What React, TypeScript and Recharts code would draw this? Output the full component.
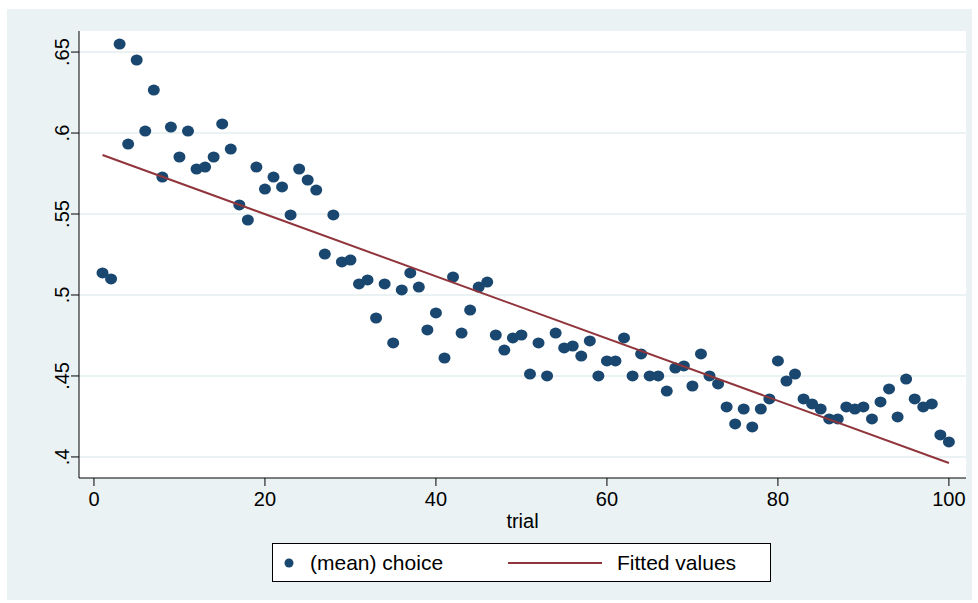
import {
  CartesianGrid,
  Scatter,
  ScatterChart,
  XAxis,
  YAxis,
} from "recharts";

// trial 1..100, (mean) choice
const trials: number[] = Array.from({ length: 100 }, (_, i) => i + 1);
const meanChoice: number[] = [
  0.5136, 0.5099, 0.6549, 0.5932, 0.6451, 0.6012, 0.6265, 0.5728, 0.6037, 0.5852,
  0.6012, 0.5778, 0.579, 0.5852, 0.6056, 0.5901, 0.5556, 0.5463, 0.579, 0.5654,
  0.5728, 0.5667, 0.5494, 0.5778, 0.571, 0.5648, 0.5253, 0.5494, 0.5204, 0.5216,
  0.5068, 0.5093, 0.4858, 0.5068, 0.4704, 0.5031, 0.5136, 0.5049, 0.4784, 0.4889,
  0.4611, 0.5111, 0.4765, 0.4907, 0.5049, 0.508, 0.4753, 0.466, 0.4735, 0.4753,
  0.4512, 0.4704, 0.45, 0.4765, 0.4673, 0.4685, 0.4623, 0.4716, 0.45, 0.4593,
  0.4593, 0.4735, 0.45, 0.4636, 0.45, 0.45, 0.4407, 0.4549, 0.4562, 0.4438,
  0.4636, 0.45, 0.4451, 0.4309, 0.4204, 0.4296, 0.4185, 0.4296, 0.4358, 0.4593,
  0.4469, 0.4512, 0.4358, 0.4327, 0.4296, 0.4235, 0.4235, 0.4309, 0.4296, 0.4309,
  0.4235, 0.434, 0.442, 0.4247, 0.4481, 0.4358, 0.4309, 0.4327, 0.4136, 0.4093,
];

// linear fit, endpoints at trial 1 and 100
const fitTrials: number[] = [1, 100];
const fitValues: number[] = [0.5864, 0.3963];

const xTicks = [0, 20, 40, 60, 80, 100];
const yTicks = [0.4, 0.45, 0.5, 0.55, 0.6, 0.65];

const NAVY = "#1a476f";
const MAROON = "#90353b";
const BG = "#eaf2f3";
const FONT = "'Liberation Sans', Arial, Helvetica, sans-serif";

const points = trials.map((t, i) => ({ trial: t, choice: meanChoice[i] }));
const fitted = fitTrials.map((t, i) => ({ trial: t, choice: fitValues[i] }));

const fmtY = (v: number) => String(v).replace(/^0/, "");

const Dot = (props: any) => {
  const { cx, cy } = props;
  if (cx == null || cy == null) return <g />;
  return <ellipse cx={cx} cy={cy} rx={6} ry={5.5} fill={NAVY} />;
};

const YTick = (props: any) => {
  const { x, y, payload } = props;
  return (
    <text
      x={0}
      y={0}
      transform={`translate(${x},${y}) rotate(-90)`}
      textAnchor="middle"
      fontSize={20}
      fontFamily={FONT}
      fill="#000"
    >
      {fmtY(payload.value)}
    </text>
  );
};

const AxisTitle = (props: any) => {
  const vb = props.viewBox || {};
  return (
    <text
      x={vb.x + vb.width / 2}
      y={vb.y + 50}
      textAnchor="middle"
      fontSize={20}
      fontFamily={FONT}
      fill="#000"
    >
      trial
    </text>
  );
};

export default function App() {
  return (
    <div
      style={{
        position: "absolute",
        left: 0,
        top: 0,
        width: 978,
        height: 603,
        background: "#fff",
        fontFamily: FONT,
      }}
    >
      <div
        style={{
          position: "absolute",
          left: 7,
          top: 9,
          width: 965,
          height: 591,
          background: BG,
        }}
      />
      <div style={{ position: "absolute", left: 0, top: 0 }}>
        <ScatterChart
          width={978}
          height={603}
          margin={{ top: 31, right: 12, bottom: 0, left: 0 }}
        >
          <CartesianGrid
            vertical={false}
            fill="#fff"
            stroke={BG}
            strokeWidth={2}
            horizontalValues={yTicks}
          />
          <XAxis
            type="number"
            dataKey="trial"
            domain={[-1.75, 102]}
            ticks={xTicks}
            height={125}
            tickSize={8}
            tickMargin={6}
            stroke="#000"
            tick={{ fontSize: 20, fill: "#000", fontFamily: FONT }}
            allowDataOverflow
            label={<AxisTitle />}
          />
          <YAxis
            type="number"
            dataKey="choice"
            domain={[0.387, 0.663]}
            ticks={yTicks}
            width={79}
            tickSize={8}
            tickMargin={2}
            stroke="#000"
            tick={<YTick />}
            allowDataOverflow
          />
          <Scatter
            name="(mean) choice"
            data={points}
            shape={<Dot />}
            isAnimationActive={false}
          />
          <Scatter
            name="Fitted values"
            data={fitted}
            line={{ stroke: MAROON, strokeWidth: 2 }}
            shape={() => <g />}
            isAnimationActive={false}
          />
        </ScatterChart>
      </div>
      <div
        style={{
          position: "absolute",
          left: 272,
          top: 543,
          width: 499,
          height: 39,
          boxSizing: "border-box",
          border: "1px solid #000",
          background: "#fff",
          fontSize: 21,
          color: "#000",
        }}
      >
        <svg
          width={499}
          height={39}
          style={{ position: "absolute", left: -1, top: -1 }}
        >
          <circle cx={17} cy={20} r={4.5} fill={NAVY} />
          <line x1={236} x2={330} y1={20} y2={20} stroke={MAROON} strokeWidth={2} />
        </svg>
        <span style={{ position: "absolute", left: 37, top: 7, lineHeight: "23px" }}>
          (mean) choice
        </span>
        <span style={{ position: "absolute", left: 344, top: 7, lineHeight: "23px" }}>
          Fitted values
        </span>
      </div>
    </div>
  );
}
